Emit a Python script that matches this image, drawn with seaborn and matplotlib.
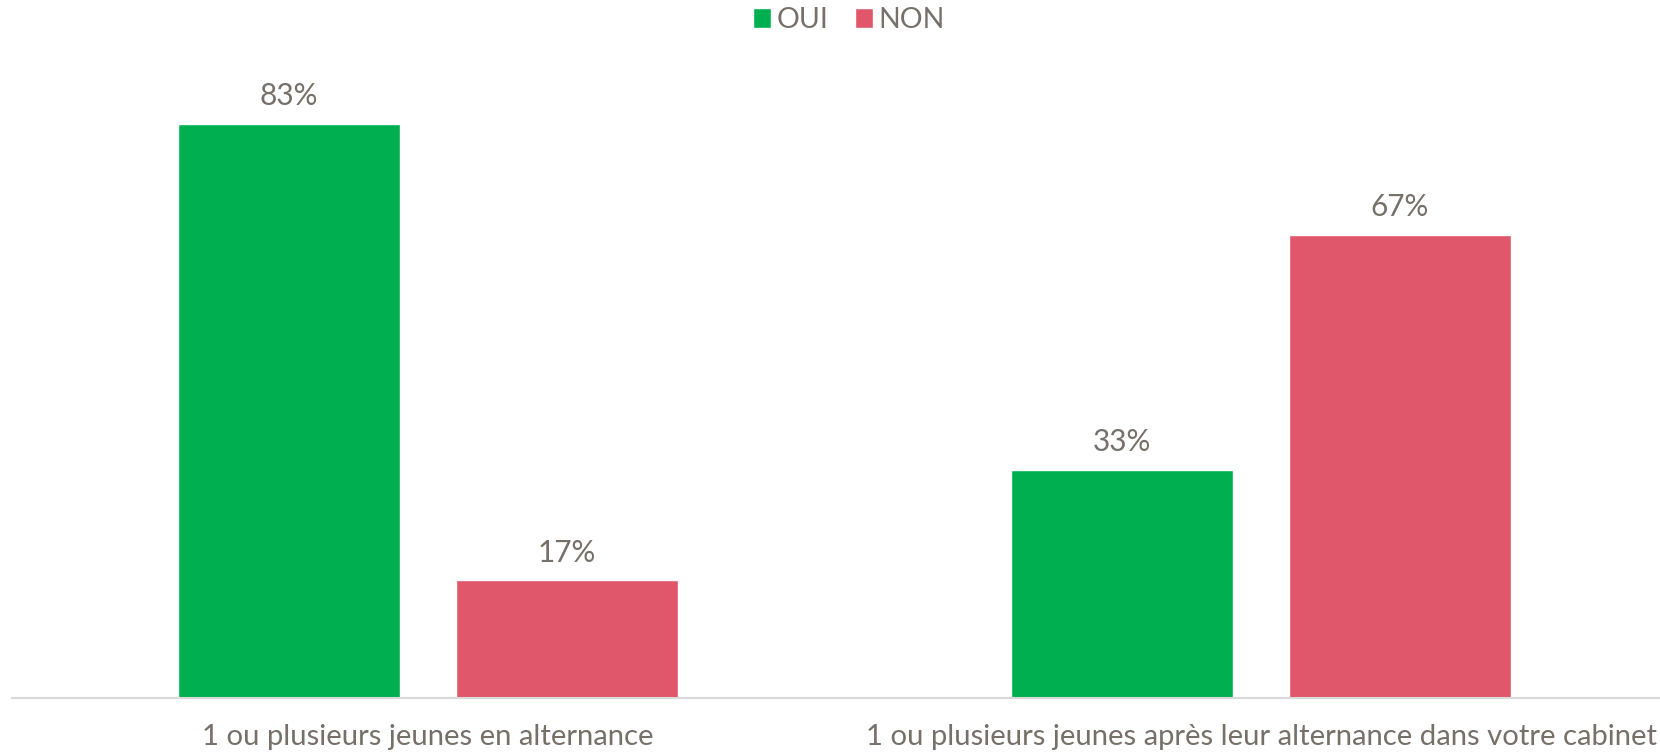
import matplotlib
matplotlib.use("Agg")
import matplotlib.pyplot as plt
import seaborn as sns
import pandas as pd

categories = ["1 ou plusieurs jeunes en alternance",
              "1 ou plusieurs jeunes après leur alternance dans votre cabinet"]
series = ["OUI", "NON"]
oui_values = [83, 33]
non_values = [17, 67]
colors = {"OUI": "#00B050", "NON": "#E0566A"}
text_color = "#767069"

rows = []
for c, v in zip(categories, oui_values):
    rows.append({"cat": c, "serie": "OUI", "val": v})
for c, v in zip(categories, non_values):
    rows.append({"cat": c, "serie": "NON", "val": v})
df = pd.DataFrame(rows)

sns.set_theme(style="white")
plt.rcParams['font.family'] = ['Lato', 'DejaVu Sans']

fig = plt.figure(figsize=(16.6, 7.56), dpi=100)
ax = fig.add_axes([11.5 / 1660, 58 / 756, 1666 / 1660, 689 / 756])

sns.barplot(data=df, x="cat", y="val", hue="serie", hue_order=series,
            order=categories, palette=colors, width=0.667, gap=0.2,
            saturation=1, ax=ax, legend=True)

ax.set_xlim(-0.5, 1.5)
ax.set_ylim(0, 99.6)
ax.set_xlabel("")
ax.set_ylabel("")
ax.set_yticks([])
for s in ["top", "left", "right"]:
    ax.spines[s].set_visible(False)
ax.spines["bottom"].set_color("#D9D9D9")
ax.spines["bottom"].set_linewidth(1.5)
ax.tick_params(axis="x", length=0, pad=19, labelsize=21.1, labelcolor=text_color)
# keep the long right label inside the figure
ticklabels = ax.get_xticklabels()
ticklabels[1].set_horizontalalignment("right")
ticklabels[1].set_x(0)
import matplotlib.transforms as mtransforms
offset = mtransforms.ScaledTranslation(0, 0, fig.dpi_scale_trans)

fig.canvas.draw()
r = fig.canvas.get_renderer()
bb = ticklabels[1].get_window_extent(r)
ticklabels[1].set_horizontalalignment("center")
fig.canvas.draw()
bb = ticklabels[1].get_window_extent(r)
if bb.x1 > fig.bbox.x1 - 3:
    shift = (fig.bbox.x1 - 3 - bb.x1) / fig.dpi
    ticklabels[1].set_transform(ticklabels[1].get_transform() +
                                mtransforms.ScaledTranslation(shift, 0, fig.dpi_scale_trans))

for cont in ax.containers:
    ax.bar_label(cont, labels=[f"{int(round(v))}%" for v in cont.datavalues],
                 padding=10, fontsize=21.4, color=text_color)

handles, labels = ax.get_legend_handles_labels()
ax.legend(handles, labels, loc="center", bbox_to_anchor=(849 / 1660, 1 - 20 / 756),
          bbox_transform=fig.transFigure, ncol=2, frameon=False,
          fontsize=20.5, labelcolor=text_color, handlelength=0.65, handleheight=0.65,
          handletextpad=0.2, columnspacing=0.9, borderpad=0, borderaxespad=0)

fig.savefig("out.png", dpi=100)
